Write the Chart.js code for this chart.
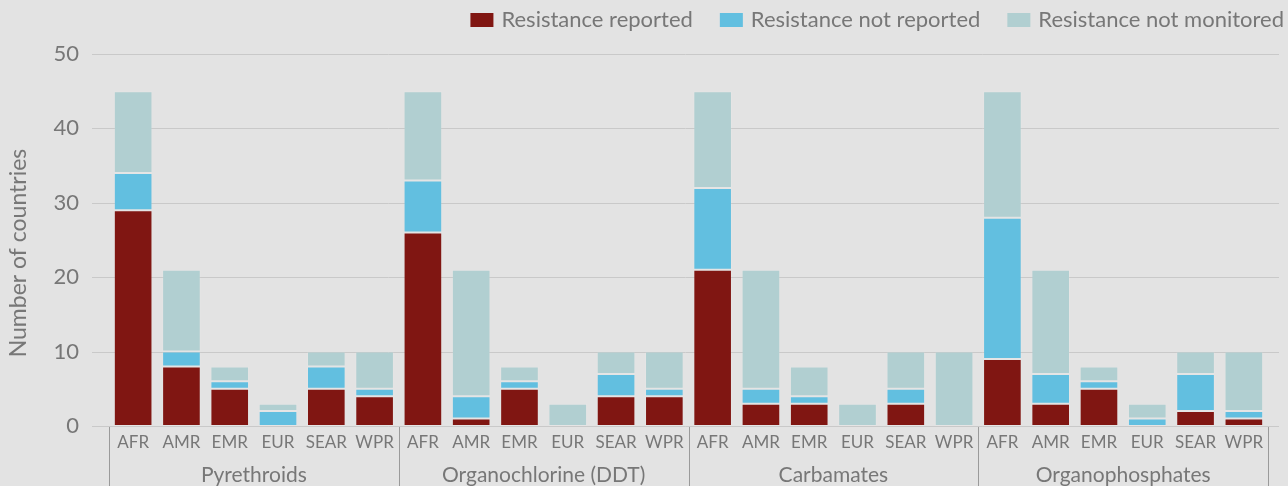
<!DOCTYPE html>
<html>
<head>
<meta charset="utf-8">
<script src="https://cdn.jsdelivr.net/npm/chart.js@4"></script>
<style>
  html, body { margin: 0; padding: 0; background: #e3e3e3; }
  #wrap { width: 1288px; height: 486px; position: relative; }
</style>
</head>
<body>
<div id="wrap"><canvas id="chart"></canvas></div>
<script>
// data
const regions = ["AFR", "AMR", "EMR", "EUR", "SEAR", "WPR"];
const groups = ["Pyrethroids", "Organochlorine (DDT)", "Carbamates", "Organophosphates"];
const yTicks = [0, 10, 20, 30, 40, 50];

// one entry per group x region, in the order above
const reported = [
  29, 8, 5, 0, 5, 4,
  26, 1, 5, 0, 4, 4,
  21, 3, 3, 0, 3, 0,
  9, 3, 5, 0, 2, 1
];
const notReported = [
  5, 2, 1, 2, 3, 1,
  7, 3, 1, 0, 3, 1,
  11, 2, 1, 0, 2, 0,
  19, 4, 1, 1, 5, 1
];
const notMonitored = [
  11, 11, 2, 1, 2, 5,
  12, 17, 2, 3, 3, 5,
  13, 16, 4, 3, 5, 10,
  17, 14, 2, 2, 3, 8
];

const TEXT = "#777777";
const FONT = "Lato";

const labels = [];
groups.forEach(g => regions.forEach(r => labels.push(g + " " + r)));

// gridlines running a bit past the plot, group labels + separators, legend, y title
const groupAxis = {
  id: "groupAxis",
  beforeDatasetsDraw(chart) {
    const { ctx, chartArea, scales: { y } } = chart;
    ctx.save();
    ctx.strokeStyle = "#c9c9c9";
    ctx.lineWidth = 1;
    yTicks.forEach(v => {
      const py = Math.round(y.getPixelForValue(v)) + 0.5;
      ctx.beginPath();
      ctx.moveTo(chartArea.left - 17, py);
      ctx.lineTo(chartArea.right + 11, py);
      ctx.stroke();
    });
    ctx.restore();
  },
  afterDraw(chart) {
    const { ctx, chartArea, scales: { x } } = chart;
    const step = x.getPixelForValue(1) - x.getPixelForValue(0);
    ctx.save();

    // separators between groups
    ctx.strokeStyle = "#9a9a9a";
    ctx.lineWidth = 1;
    for (let g = 0; g <= groups.length; g++) {
      const px = Math.round(x.getPixelForValue(g * regions.length) - step / 2) + 0.5;
      ctx.beginPath();
      ctx.moveTo(px, chartArea.bottom + 1);
      ctx.lineTo(px, chart.height);
      ctx.stroke();
    }

    // group names
    ctx.fillStyle = TEXT;
    ctx.font = "21px " + FONT;
    ctx.textAlign = "center";
    ctx.textBaseline = "middle";
    groups.forEach((name, g) => {
      const i = g * regions.length;
      const cx = (x.getPixelForValue(i) + x.getPixelForValue(i + regions.length - 1)) / 2;
      ctx.fillText(name, cx, chartArea.bottom + 49);
    });

    // y axis title
    ctx.save();
    ctx.translate(19, 253);
    ctx.rotate(-Math.PI / 2);
    ctx.font = "23px " + FONT;
    ctx.fillText("Number of countries", 0, 0);
    ctx.restore();

    // legend, right aligned
    ctx.font = "22px " + FONT;
    ctx.textAlign = "left";
    let right = 1284;
    const sets = chart.data.datasets.slice().reverse();
    sets.forEach(ds => {
      const w = ctx.measureText(ds.label).width;
      const tx = right - w;
      ctx.fillStyle = TEXT;
      ctx.fillText(ds.label, tx, 20);
      ctx.fillStyle = ds.backgroundColor;
      ctx.fillRect(tx - 8 - 23, 13, 23, 14);
      right = tx - 8 - 23 - 27;
    });
    ctx.restore();
  }
};

const barStyle = { borderWidth: 1, borderColor: "rgba(255,255,255,0.08)", borderSkipped: false };

new Chart(document.getElementById("chart"), {
  type: "bar",
  data: {
    labels: labels,
    datasets: [
      { label: "Resistance reported", data: reported, backgroundColor: "#801612", ...barStyle },
      { label: "Resistance not reported", data: notReported, backgroundColor: "#62bfe0", ...barStyle },
      { label: "Resistance not monitored", data: notMonitored, backgroundColor: "#b1cfd1", ...barStyle }
    ]
  },
  options: {
    responsive: true,
    maintainAspectRatio: false,
    animation: false,
    layout: { padding: { left: 0, right: 20, top: 54, bottom: 0 } },
    datasets: { bar: { categoryPercentage: 1, barPercentage: 0.8 } },
    plugins: {
      tooltip: { enabled: false },
      legend: { display: false }
    },
    scales: {
      x: {
        stacked: true,
        grid: { display: false },
        border: { display: false },
        ticks: {
          color: TEXT,
          font: { family: FONT, size: 17 },
          padding: -2,
          maxRotation: 0,
          autoSkip: false,
          callback: (v, i) => regions[i % regions.length]
        },
        afterFit: s => { s.height = 60; }
      },
      y: {
        stacked: true,
        min: 0,
        max: 50,
        afterBuildTicks: s => { s.ticks = yTicks.map(v => ({ value: v })); },
        grid: { display: false },
        border: { display: false },
        ticks: { color: TEXT, font: { family: FONT, size: 22 }, padding: 22 },
        afterFit: s => { s.width = 109; }
      }
    }
  },
  plugins: [groupAxis]
});
</script>
</body>
</html>
